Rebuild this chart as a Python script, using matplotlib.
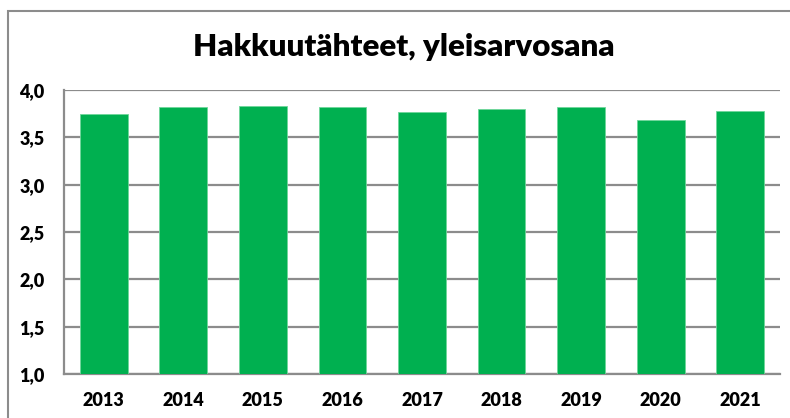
import matplotlib.pyplot as plt
from matplotlib.patches import Rectangle
from matplotlib.ticker import FuncFormatter

# Data
years = ['2013', '2014', '2015', '2016', '2017', '2018', '2019', '2020', '2021']
scores = [3.75, 3.82, 3.83, 3.82, 3.77, 3.80, 3.82, 3.68, 3.78]
y_ticks = [1.0, 1.5, 2.0, 2.5, 3.0, 3.5, 4.0]

title = 'Hakkuutähteet, yleisarvosana'
bar_color = '#00B050'
grid_color = '#8c8c8c'

plt.rcParams['font.family'] = ['Lato', 'DejaVu Sans']

fig = plt.figure(figsize=(7.9, 4.18), dpi=100)

# outer chart frame (right/bottom edges cut off in the original)
fig.patches.append(Rectangle((7.5 / 790, -0.1), 1.2, 1 - 11 / 418 + 0.1,
                             transform=fig.transFigure, fill=False,
                             edgecolor=grid_color, linewidth=1.5))

ax = fig.add_axes([64 / 790, 1 - 374 / 418, (780 - 64) / 790, (374 - 90) / 418])

x = range(len(years))
ax.bar(x, scores, width=0.6, bottom=0, color=bar_color,
       edgecolor='#6fd69a', linewidth=0.6, zorder=3)

ax.set_xlim(-0.5, len(years) - 0.5)
ax.set_ylim(1.0, 4.0)
ax.set_yticks(y_ticks)
ax.yaxis.set_major_formatter(FuncFormatter(lambda v, p: f'{v:.1f}'.replace('.', ',')))
ax.set_xticks(list(x))
ax.set_xticklabels(years)

ax.grid(axis='y', color=grid_color, linewidth=1.6, zorder=0)
ax.tick_params(axis='both', length=0, labelsize=13)
ax.tick_params(axis='y', pad=14)
ax.tick_params(axis='x', pad=13)
for lbl in ax.get_xticklabels() + ax.get_yticklabels():
    lbl.set_fontweight('heavy')

for side in ['top', 'right']:
    ax.spines[side].set_visible(False)
ax.spines['left'].set_color(grid_color)
ax.spines['left'].set_linewidth(1.6)
ax.spines['bottom'].set_color(grid_color)
ax.spines['bottom'].set_linewidth(1.6)

fig.text(404 / 790, 1 - 47 / 418, title, ha='center', va='center',
         fontsize=22.5, fontweight='heavy')

fig.savefig('out.png', dpi=100)
